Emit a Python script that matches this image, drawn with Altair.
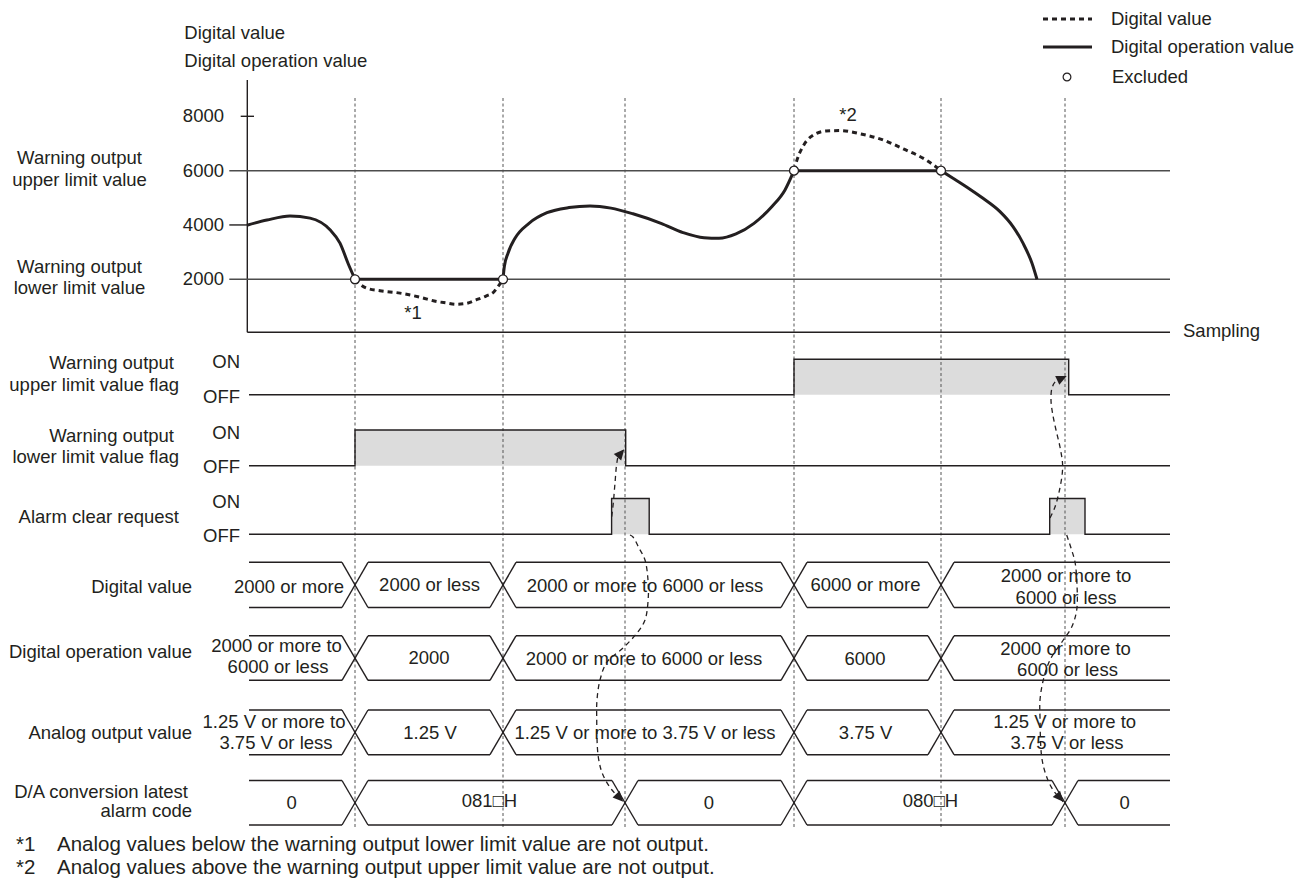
import math
import altair as alt
import pandas as pd

# ---------------------------------------------------------------- style
FONT = "Liberation Sans, Arial, Helvetica, DejaVu Sans, sans-serif"
INK = "#231f20"
LIMIT = "#4d4d4d"
FILL = "#dcdcdc"
FS = 18.5

W, H = 1289, 871                      # whole drawing area (page minus 8px margin)
X_DOMAIN = [8, 8 + W]                 # sampling position (page columns)
Y_DOMAIN = [8, 8 + H]                 # vertical layout position (page rows)

# ---------------------------------------------------------------- top graph data
tick_values = [2000, 4000, 6000, 8000]
tick_labels = ["2000", "4000", "6000", "8000"]
lower_limit = 2000
upper_limit = 6000
value_px_0 = 333.6                    # where 0 sits on the value axis
value_px_8000 = 116.3                 # where 8000 sits on the value axis

# sampling positions of the events (vertical dotted lines)
event_x = [355, 503, 625, 794, 941, 1065]

# digital operation value (solid)
op1_x = [247, 267, 290, 310, 330, 340, 348, 355]
op1_v = [3990, 4180, 4330, 4250, 3820, 3330, 2590, 2000]
op2_x = [503, 504.3, 508, 515, 529, 547, 569, 590, 611, 633, 661, 683, 704, 719, 736, 754, 772, 785, 794]
op2_v = [2000, 2460, 2960, 3510, 4060, 4450, 4640, 4700, 4620, 4410, 4060, 3720, 3530, 3510, 3670, 4060, 4680, 5290, 6000]
op3_x = [941, 953, 967, 983, 1000, 1013, 1023, 1032, 1037]
op3_v = [6000, 5720, 5390, 4980, 4490, 3940, 3330, 2590, 2000]

# digital value where it differs (dotted)
dv1_x = [355, 360, 367, 380, 400, 420, 437, 446, 456, 466, 476, 486, 494, 498, 503]
dv1_v = [2000, 1820, 1670, 1580, 1490, 1340, 1180, 1130, 1080, 1110, 1240, 1380, 1540, 1730, 2000]
dv2_x = [794, 797, 802.5, 811, 826, 840, 861, 883, 904, 926, 941]
dv2_v = [6000, 6395, 6860, 7250, 7460, 7475, 7350, 7130, 6790, 6395, 6000]

# ---------------------------------------------------------------- timing data
timing_left = 249
timing_right = 1170
bus_half = 13

flag_names = ["upper", "lower", "alarm"]
flag_on_y = [359.3, 430.0, 498.5]
flag_off_y = [394.8, 465.8, 534.2]
flag_pulses = [[(794, 1068.7)], [(355, 625.7)], [(611.6, 649.2), (1049.7, 1085)]]

bus_names = ["Digital value", "Digital operation value", "Analog output value", "D/A conversion latest alarm code"]
bus_top = [562.3, 635.8, 710.0, 780.5]
bus_bottom = [607.5, 680.3, 754.7, 825.0]
bus_changes = [[355, 503, 794, 941], [355, 503, 794, 941], [355, 503, 794, 941], [355, 625, 794, 1065]]

bus_cell_text = [
    "2000 or more", "2000 or less", "2000 or more to 6000 or less", "6000 or more",
    "2000 or more to", "6000 or less",
    "2000 or more to", "6000 or less", "2000", "2000 or more to 6000 or less", "6000",
    "2000 or more to", "6000 or less",
    "1.25 V or more to", "3.75 V or less", "1.25 V", "1.25 V or more to 3.75 V or less", "3.75 V",
    "1.25 V or more to", "3.75 V or less",
    "0", "081\u25a1H", "0", "080\u25a1H", "0",
]
bus_cell_x = [289, 429.5, 645, 865.5, 1066, 1066,
              276.5, 278, 429, 644, 865, 1065.5, 1067.5,
              274, 276, 430, 645, 865.6, 1064.6, 1067,
              291.7, 489.5, 709, 930.5, 1124.7]
bus_cell_y = [586.5, 585, 586, 585, 576, 597.5,
              646, 667, 658.3, 659, 659, 649, 670,
              721.7, 742.7, 733, 733, 733, 722, 743,
              803, 800.5, 803, 800.5, 803]

# dashed cause/effect arrows (sampling position, row position)
arrow_names = ["a1", "a2", "a3", "a4"]
arrow_x = [
    [611.7, 613.3, 615, 616.7, 618.5, 624.3],
    [630, 633, 639, 645, 648, 648.3, 645, 637, 623, 607, 600, 597, 596.7, 598.3, 603, 612, 623.3],
    [1050, 1055, 1059.5, 1062.3, 1062.5, 1060, 1056, 1052.5, 1051, 1052, 1056, 1066.7],
    [1066.7, 1071, 1075, 1077, 1076.7, 1071.7, 1063.3, 1050, 1043.3, 1040, 1040, 1041.7, 1046, 1053, 1063.3],
]
arrow_y = [
    [516.7, 503, 483, 464, 456, 449.3],
    [535, 537, 548, 560, 580, 597, 620, 633, 648, 662, 680, 700, 717, 757, 775, 790, 801.7],
    [518, 507, 490, 473, 463, 447, 430, 413, 400, 388, 381, 376],
    [535, 548, 562, 585, 610, 627, 640, 660, 680, 700, 717, 757, 775, 790, 801.7],
]

# ---------------------------------------------------------------- texts
left_text = ["Digital value", "Digital operation value", "Sampling",
             "Digital value", "Digital operation value", "Excluded"]
left_x = [184.3, 184.3, 1183, 1111, 1111, 1112]
left_y = [33, 61, 331, 19, 47, 77]

center_text = ["Warning output", "upper limit value", "Warning output", "lower limit value", "*1", "*2"]
center_x = [79.5, 79.5, 79.5, 79.5, 413, 848]
center_y = [158.3, 180, 266.7, 287.5, 313, 115]

right_text = ["Warning output", "upper limit value flag", "Warning output", "lower limit value flag",
              "Alarm clear request",
              "ON", "OFF", "ON", "OFF", "ON", "OFF",
              "Digital value", "Digital operation value", "Analog output value",
              "D/A conversion latest", "alarm code"]
right_x = [174, 179, 174, 179, 179, 240, 240, 240, 240, 240, 240, 192, 192, 192, 188, 192]
right_y = [362.7, 384.5, 436.3, 457, 517, 361.7, 396.7, 433.3, 466.7, 501.7, 535.7,
           587, 652, 733, 792, 811]

note_marks = ["*1", "*2"]
note_text = ["Analog values below the warning output lower limit value are not output.",
             "Analog values above the warning output upper limit value are not output."]
note_mark_x = 16
note_text_x = 57
note_y = [845, 868]

legend_line_x = [1043, 1092]
legend_y = [19, 47, 77]
legend_circle_x = 1067

# ---------------------------------------------------------------- scales / encodings
xs = alt.Scale(domain=X_DOMAIN, nice=False, zero=False)
ys = alt.Scale(domain=Y_DOMAIN, reverse=True, nice=False, zero=False)
vs = alt.Scale(domain=[0, 8000], range=[value_px_0 - 8, value_px_8000 - 8], nice=False, zero=False)


def ex(f="x"):
    return alt.X(f"{f}:Q", scale=xs, axis=None)


def ey(f="y"):
    return alt.Y(f"{f}:Q", scale=ys, axis=None)


def ev(f="v"):
    return alt.Y(f"{f}:Q", scale=vs, axis=None)


def seg_df(rows):
    return pd.DataFrame(rows, columns=["x", "y", "x2", "y2"])


def text_layer(texts, xsv, ysv, align, size=FS):
    df = pd.DataFrame({"t": texts, "x": xsv, "y": ysv})
    return alt.Chart(df).mark_text(align=align, baseline="middle", font=FONT,
                                   fontSize=size, color=INK).encode(x=ex(), y=ey(), text="t:N")


layout = []

# gray ON areas
fill_rows = []
for on, off, pulses in zip(flag_on_y, flag_off_y, flag_pulses):
    for a, b in pulses:
        fill_rows.append({"x": a, "x2": b, "y": on, "y2": off})
layout.append(alt.Chart(pd.DataFrame(fill_rows)).mark_rect(color=FILL).encode(
    x=ex(), x2="x2:Q", y=ey(), y2="y2:Q"))

# axes of the top graph
axis_x = 247.3
axis_top = 80
axis_bottom = 332.3
axes = seg_df([(axis_x, axis_top, axis_x, axis_bottom), (axis_x, axis_bottom, timing_right, axis_bottom)])
layout.append(alt.Chart(axes).mark_rule(color=INK, strokeWidth=1.4).encode(
    x=ex(), x2="x2:Q", y=ey(), y2="y2:Q"))

# vertical dotted event lines
vlines = seg_df([(ex_, 98, ex_, 827) for ex_ in event_x])
layout.append(alt.Chart(vlines).mark_rule(color="#555555", strokeWidth=1, strokeDash=[3, 2.5]).encode(
    x=ex(), x2="x2:Q", y=ey(), y2="y2:Q"))

# bus rows
bus_rows = []
for top, bot, ch in zip(bus_top, bus_bottom, bus_changes):
    starts = [timing_left] + [c + bus_half for c in ch]
    ends = [c - bus_half for c in ch] + [timing_right]
    for s, e in zip(starts, ends):
        bus_rows.append((s, top, e, top))
        bus_rows.append((s, bot, e, bot))
    for c in ch:
        bus_rows.append((c - bus_half, top, c + bus_half, bot))
        bus_rows.append((c - bus_half, bot, c + bus_half, top))
layout.append(alt.Chart(seg_df(bus_rows)).mark_rule(color=INK, strokeWidth=1.4).encode(
    x=ex(), x2="x2:Q", y=ey(), y2="y2:Q"))

# flag waveforms
flag_pts = []
for name, on, off, pulses in zip(flag_names, flag_on_y, flag_off_y, flag_pulses):
    pts = [(timing_left, off)]
    for a, b in pulses:
        pts += [(a, off), (a, on), (b, on), (b, off)]
    pts.append((timing_right, off))
    for i, (px, py) in enumerate(pts):
        flag_pts.append({"g": name, "o": i, "x": px, "y": py})
layout.append(alt.Chart(pd.DataFrame(flag_pts)).mark_line(color=INK, strokeWidth=1.4).encode(
    x=ex(), y=ey(), detail="g:N", order="o:Q"))

# arrows
arrow_pts = []
heads = []
for name, axs, ays in zip(arrow_names, arrow_x, arrow_y):
    for i, (px, py) in enumerate(zip(axs, ays)):
        arrow_pts.append({"g": name, "o": i, "x": px, "y": py})
    dx = axs[-1] - axs[-2]
    dy = ays[-1] - ays[-2]
    ang = math.degrees(math.atan2(dx, -dy)) % 360
    heads.append({"x": axs[-1], "y": ays[-1], "ang": ang})
layout.append(alt.Chart(pd.DataFrame(arrow_pts)).mark_line(
    color=INK, strokeWidth=1.3, strokeDash=[5, 4], interpolate="catmull-rom").encode(
    x=ex(), y=ey(), detail="g:N", order="o:Q"))
layout.append(alt.Chart(pd.DataFrame(heads)).mark_point(
    shape="M0,0L-0.75,1.6L0.75,1.6Z", filled=True, color=INK, size=170, opacity=1).encode(
    x=ex(), y=ey(), angle=alt.Angle("ang:Q", scale=None)))

# legend symbols
leg_lines = pd.DataFrame([
    {"x": legend_line_x[0], "x2": legend_line_x[1], "y": legend_y[0], "y2": legend_y[0]},
])
layout.append(alt.Chart(leg_lines).mark_rule(color=INK, strokeWidth=3, strokeDash=[5, 4]).encode(
    x=ex(), x2="x2:Q", y=ey(), y2="y2:Q"))
leg_solid = pd.DataFrame([{"x": legend_line_x[0], "x2": legend_line_x[1], "y": legend_y[1], "y2": legend_y[1]}])
layout.append(alt.Chart(leg_solid).mark_rule(color=INK, strokeWidth=3).encode(
    x=ex(), x2="x2:Q", y=ey(), y2="y2:Q"))
leg_circ = pd.DataFrame([{"x": legend_circle_x, "y": legend_y[2]}])
layout.append(alt.Chart(leg_circ).mark_point(shape="circle", filled=True, fill="white", stroke=INK,
                                             strokeWidth=1.2, size=60, opacity=1).encode(x=ex(), y=ey()))

# texts
layout.append(text_layer(left_text, left_x, left_y, "left"))
layout.append(text_layer(center_text, center_x, center_y, "center"))
layout.append(text_layer(right_text, right_x, right_y, "right"))
layout.append(text_layer(bus_cell_text, bus_cell_x, bus_cell_y, "center"))
layout.append(text_layer(note_marks, [note_mark_x] * 2, note_y, "left", 20.5))
layout.append(text_layer(note_text, [note_text_x] * 2, note_y, "left", 20.5))

layout_chart = alt.layer(*layout)

# ---------------------------------------------------------------- value-scaled layers
values = []
tick_left = 229.3
limit_rows = pd.DataFrame([
    {"x": tick_left, "x2": timing_right, "v": lower_limit, "v2": lower_limit},
    {"x": tick_left, "x2": timing_right, "v": upper_limit, "v2": upper_limit},
])
values.append(alt.Chart(limit_rows).mark_rule(color=LIMIT, strokeWidth=1.5).encode(
    x=ex(), x2="x2:Q", y=ev(), y2="v2:Q"))
tick_rows = pd.DataFrame([
    {"x": tick_left, "x2": axis_x, "v": tick_values[1], "v2": tick_values[1]},
    {"x": 240.7, "x2": 254, "v": tick_values[3], "v2": tick_values[3]},
])
values.append(alt.Chart(tick_rows).mark_rule(color=INK, strokeWidth=1.4).encode(
    x=ex(), x2="x2:Q", y=ev(), y2="v2:Q"))

op_rows = []
for g, xsv, vsv in [("a", op1_x, op1_v), ("c", op2_x, op2_v), ("e", op3_x, op3_v)]:
    for i, (px, pv) in enumerate(zip(xsv, vsv)):
        op_rows.append({"g": g, "o": i, "x": px, "v": pv})
values.append(alt.Chart(pd.DataFrame(op_rows)).mark_line(
    color=INK, strokeWidth=3, interpolate="monotone").encode(x=ex(), y=ev(), detail="g:N", order="o:Q"))

flat_rows = []
for g, (a, b, lv) in zip(["b", "d"], [(event_x[0], event_x[1], lower_limit), (event_x[3], event_x[4], upper_limit)]):
    flat_rows.append({"g": g, "o": 0, "x": a, "v": lv})
    flat_rows.append({"g": g, "o": 1, "x": b, "v": lv})
values.append(alt.Chart(pd.DataFrame(flat_rows)).mark_line(color=INK, strokeWidth=3).encode(
    x=ex(), y=ev(), detail="g:N", order="o:Q"))

dv_rows = []
for g, xsv, vsv in [("d1", dv1_x, dv1_v), ("d2", dv2_x, dv2_v)]:
    for i, (px, pv) in enumerate(zip(xsv, vsv)):
        dv_rows.append({"g": g, "o": i, "x": px, "v": pv})
values.append(alt.Chart(pd.DataFrame(dv_rows)).mark_line(
    color=INK, strokeWidth=3, strokeDash=[5, 4], interpolate="monotone").encode(
    x=ex(), y=ev(), detail="g:N", order="o:Q"))

excl = pd.DataFrame([
    {"x": event_x[0], "v": lower_limit}, {"x": event_x[1], "v": lower_limit},
    {"x": event_x[3], "v": upper_limit}, {"x": event_x[4], "v": upper_limit},
])
values.append(alt.Chart(excl).mark_point(shape="circle", filled=True, fill="white", stroke=INK,
                                         strokeWidth=1.3, size=80, opacity=1).encode(x=ex(), y=ev()))

ticks_df = pd.DataFrame({"t": tick_labels, "v": tick_values, "x": [224] * 4})
values.append(alt.Chart(ticks_df).mark_text(align="right", baseline="middle", font=FONT,
                                            fontSize=FS, color=INK).encode(x=ex(), y=ev(), text="t:N"))

value_chart = alt.layer(*values)

chart = alt.layer(layout_chart, value_chart).resolve_scale(y="independent").properties(
    width=W, height=H, padding=0, autosize=alt.AutoSizeParams(type="none"), background="white"
).configure_view(stroke=None)

chart.save("out.html", embed_options={"renderer": "svg", "actions": False})
